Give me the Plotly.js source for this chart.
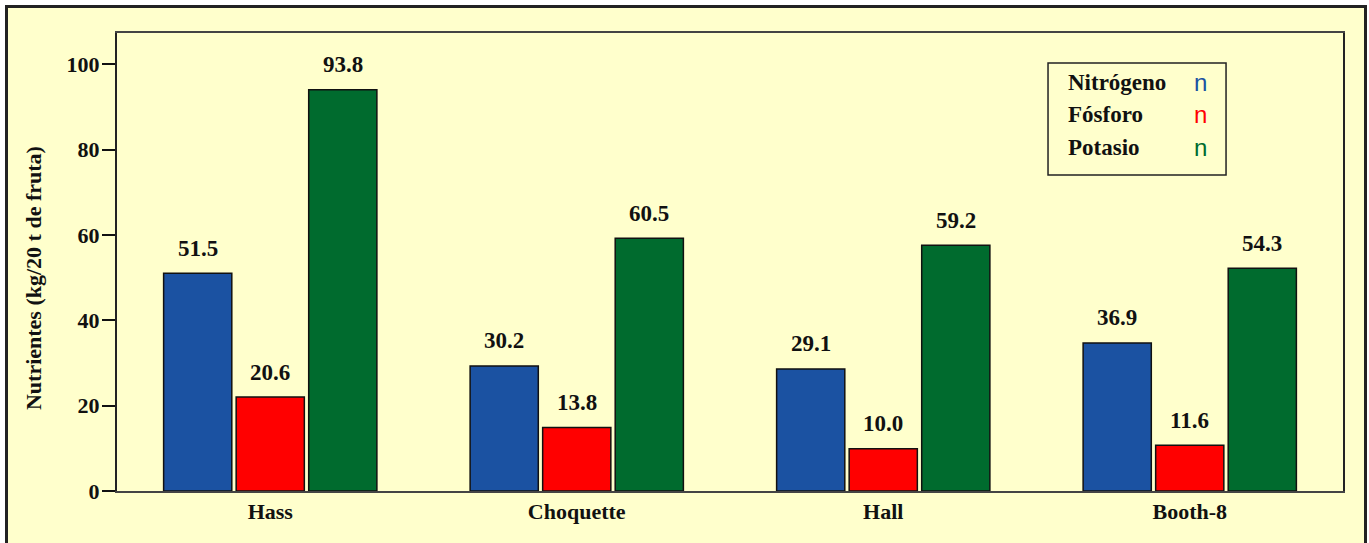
<!DOCTYPE html>
<html>
<head>
<meta charset="utf-8">
<script src="https://cdn.plot.ly/plotly-3.0.1.min.js"></script>
<style>
  html, body { margin:0; padding:0; background:#ffffff; overflow:hidden; }
  #frame { position:absolute; left:5px; top:5px; width:1356px; height:560px;
           border:3px solid #222222; background:#FFFFCC; z-index:0; }
  #chart { position:absolute; left:0; top:0; width:1369px; height:543px; z-index:1; }
</style>
</head>
<body>
<div id="frame"></div>
<div id="chart"></div>
<script>
// ---- data ----
const categories = ["Hass", "Choquette", "Hall", "Booth-8"];
const seriesNames = ["Nitrógeno", "Fósforo", "Potasio"];
// bar heights as drawn in the picture
const nitrogeno = [51.0, 29.3, 28.6, 34.7];
const fosforo   = [22.0, 14.9, 9.9, 10.7];
const potasio   = [94.0, 59.2, 57.6, 52.2];
// value labels printed above the bars
const nitrogenoLabels = ["51.5", "30.2", "29.1", "36.9"];
const fosforoLabels   = ["20.6", "13.8", "10.0", "11.6"];
const potasioLabels   = ["93.8", "60.5", "59.2", "54.3"];
const yTickVals = [0, 20, 40, 60, 80, 100];
const yTitle = "Nutrientes (kg/20 t de fruta)";

const colors = ["#1B52A2", "#FF0000", "#006B2E"];
const values = [nitrogeno, fosforo, potasio];
const labels = [nitrogenoLabels, fosforoLabels, potasioLabels];

const serif = "Liberation Serif, Times New Roman, serif";

const traces = values.map((v, k) => ({
  type: "bar",
  name: seriesNames[k],
  x: categories,
  y: v,
  marker: { color: colors[k], line: { color: "#111111", width: 1.5 } },
  hoverinfo: "none"
}));

const bargap = 0.29, bargroupgap = 0.06;
const slot = (1 - bargap) / 3;

const annotations = [];
values.forEach((v, k) => {
  v.forEach((val, i) => {
    annotations.push({
      xref: "x", yref: "y",
      x: i + (k - 1) * slot, y: val,
      text: labels[k][i],
      showarrow: false,
      yanchor: "middle", yshift: 25,
      font: { family: serif, size: 23, color: "#111111", weight: "bold" }
    });
  });
});

// y-axis title
annotations.push({
  xref: "paper", yref: "paper", x: -0.0685, y: 0.465,
  xanchor: "center", yanchor: "middle", textangle: -90, showarrow: false,
  text: yTitle,
  font: { family: serif, size: 22, color: "#111111", weight: "bold" }
});

// custom legend (text left, coloured marker glyph right)
const legendRows = [0.893, 0.821, 0.749];
seriesNames.forEach((nm, k) => {
  annotations.push({
    xref: "paper", yref: "paper", x: 0.7741, y: legendRows[k],
    xanchor: "left", yanchor: "middle", showarrow: false, text: nm,
    font: { family: serif, size: 23, color: "#111111", weight: "bold" }
  });
  annotations.push({
    xref: "paper", yref: "paper", x: 0.8834, y: legendRows[k],
    xanchor: "center", yanchor: "middle", showarrow: false, text: "n",
    font: { family: "Liberation Sans, Arial, sans-serif", size: 24, color: colors[k] }
  });
});

const layout = {
  width: 1369, height: 543,
  margin: { l: 117, r: 26, t: 33, b: 52, pad: 0 },
  paper_bgcolor: "rgba(0,0,0,0)",
  plot_bgcolor: "#FFFFCC",
  barmode: "group",
  bargap: bargap, bargroupgap: bargroupgap,
  showlegend: false,
  xaxis: {
    type: "category",
    showline: true, linecolor: "#444444", linewidth: 2, mirror: true,
    ticks: "", showgrid: false, zeroline: false,
    tickfont: { family: serif, size: 22, color: "#111111", weight: "bold" },
    ticklabelstandoff: 0
  },
  yaxis: {
    range: [0, 107.3],
    tickvals: yTickVals,
    ticktext: yTickVals.map(String),
    showline: true, linecolor: "#222222", linewidth: 2, mirror: true,
    ticks: "outside", ticklen: 13, tickwidth: 2, tickcolor: "#111111",
    showgrid: false, zeroline: false,
    tickfont: { family: serif, size: 22, color: "#111111", weight: "bold" },
    ticklabelstandoff: -2
  },
  shapes: [{
    type: "rect", xref: "paper", yref: "paper",
    x0: 0.7594, x1: 0.9046, y0: 0.690, y1: 0.9345,
    line: { color: "#222222", width: 1.5 }, fillcolor: "rgba(0,0,0,0)"
  }],
  annotations: annotations
};

Plotly.newPlot("chart", traces, layout, { staticPlot: true, displayModeBar: false });
</script>
</body>
</html>
